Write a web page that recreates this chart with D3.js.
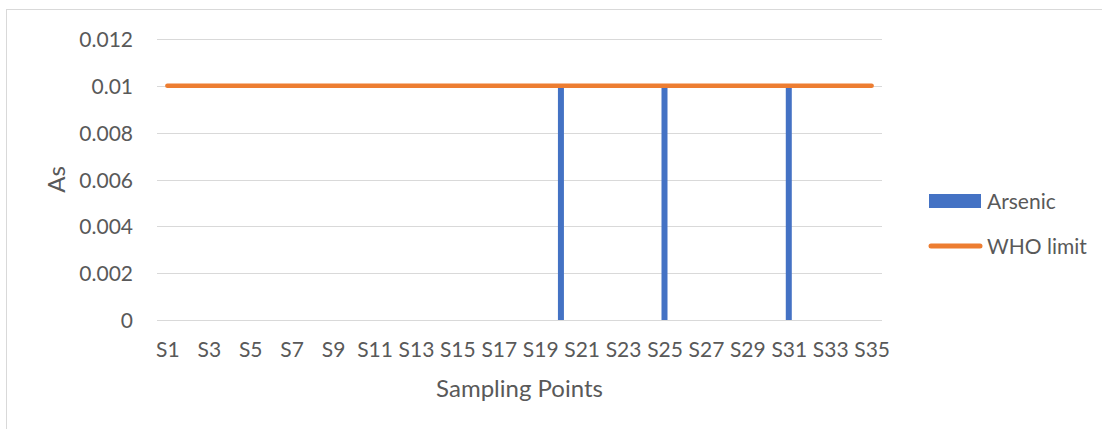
<!DOCTYPE html>
<html>
<head>
<meta charset="utf-8">
<script src="https://cdn.jsdelivr.net/npm/d3@7"></script>
<style>
  html, body { margin: 0; padding: 0; background: #fff; }
  svg { display: block; }
  text { font-family: Lato, "Open Sans", sans-serif; fill: #595959; }
</style>
</head>
<body>
<svg id="chart" width="1102" height="429"></svg>
<script>
// Sampling points S1..S35
const categories = ["S1","S2","S3","S4","S5","S6","S7","S8","S9","S10",
  "S11","S12","S13","S14","S15","S16","S17","S18","S19","S20",
  "S21","S22","S23","S24","S25","S26","S27","S28","S29","S30",
  "S31","S32","S33","S34","S35"];
// Arsenic concentration per sampling point
const arsenic = [0,0,0,0,0,0,0,0,0,0,
  0,0,0,0,0,0,0,0,0,0.01,
  0,0,0,0,0.01,0,0,0,0,0,
  0.01,0,0,0,0];
// WHO guideline value for arsenic
const whoLimit = categories.map(() => 0.01);
const yTicks = [0, 0.002, 0.004, 0.006, 0.008, 0.01, 0.012];
const yTickLabels = ["0", "0.002", "0.004", "0.006", "0.008", "0.01", "0.012"];

const svg = d3.select("#chart");
const plotLeft = 157, plotRight = 882, plotTop = 39, plotBottom = 320;
const tickFont = 21, titleFont = 24;

// chart frame
svg.append("rect")
  .attr("x", 6.5).attr("y", 9.5)
  .attr("width", 1120).attr("height", 440)
  .attr("fill", "none").attr("stroke", "#d9d9d9").attr("stroke-width", 1);

const xc = d3.scalePoint().domain(categories).range([plotLeft, plotRight]).padding(0.5);
const y = d3.scaleLinear().domain([0, 0.012]).range([plotBottom, plotTop]);

// gridlines
svg.append("g")
  .selectAll("line").data(yTicks).join("line")
  .attr("x1", plotLeft).attr("x2", plotRight)
  .attr("y1", d => Math.round(y(d)) + 0.5).attr("y2", d => Math.round(y(d)) + 0.5)
  .attr("stroke", "#d9d9d9").attr("stroke-width", 1);

// y axis labels
const yAxis = d3.axisLeft(y).tickValues(yTicks)
  .tickFormat((d, i) => yTickLabels[i]).tickSize(0).tickPadding(0);
const gy = svg.append("g").attr("transform", `translate(133,0)`).call(yAxis);
gy.select(".domain").remove();
gy.selectAll("text").attr("font-size", tickFont).attr("dy", "0.36em")
  .style("font-family", "Lato, 'Open Sans', sans-serif").attr("fill", "#595959");

// x axis labels (every other point)
const xAxis = d3.axisBottom(xc)
  .tickValues(categories.filter((d, i) => i % 2 === 0))
  .tickSize(0).tickPadding(0);
const gx = svg.append("g").attr("transform", `translate(0,${plotBottom})`).call(xAxis);
gx.select(".domain").remove();
gx.selectAll("text").attr("font-size", tickFont).attr("y", 37).attr("dy", 0)
  .style("font-family", "Lato, 'Open Sans', sans-serif").attr("fill", "#595959");

// bars
svg.append("g")
  .selectAll("rect").data(categories.map((c, i) => ({c, v: arsenic[i]})).filter(d => d.v > 0))
  .join("rect")
  .attr("x", d => xc(d.c) - 3)
  .attr("width", 6)
  .attr("y", d => y(d.v))
  .attr("height", d => y(0) - y(d.v))
  .attr("fill", "#4472c4");

// WHO limit line
const line = d3.line().x((d, i) => xc(categories[i])).y(d => y(d));
svg.append("path")
  .datum(whoLimit)
  .attr("d", line)
  .attr("fill", "none")
  .attr("stroke", "#ed7d31")
  .attr("stroke-width", 4.5)
  .attr("stroke-linecap", "round");

// axis titles
svg.append("text")
  .attr("transform", `translate(65,${(plotTop + plotBottom) / 2}) rotate(-90)`)
  .attr("text-anchor", "middle")
  .attr("font-size", titleFont)
  .text("As");
svg.append("text")
  .attr("x", (plotLeft + plotRight) / 2).attr("y", 397)
  .attr("text-anchor", "middle")
  .attr("font-size", titleFont)
  .text("Sampling Points");

// legend
const lg = svg.append("g");
lg.append("rect").attr("x", 929).attr("y", 194).attr("width", 52).attr("height", 14).attr("fill", "#4472c4");
lg.append("text").attr("x", 987).attr("y", 201).attr("dy", "0.36em").attr("font-size", tickFont).text("Arsenic");
lg.append("line").attr("x1", 931).attr("x2", 980).attr("y1", 246).attr("y2", 246)
  .attr("stroke", "#ed7d31").attr("stroke-width", 5).attr("stroke-linecap", "round");
lg.append("text").attr("x", 987).attr("y", 246).attr("dy", "0.36em").attr("font-size", tickFont).text("WHO limit");
</script>
</body>
</html>
